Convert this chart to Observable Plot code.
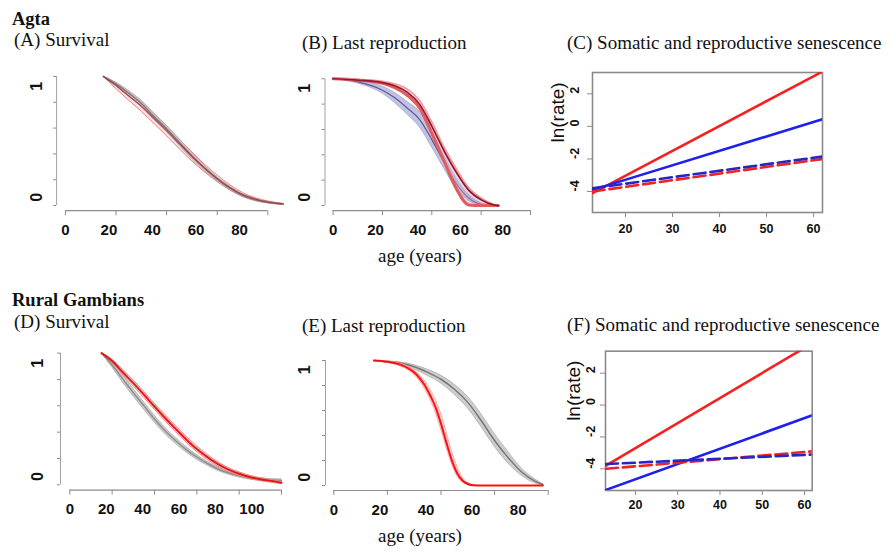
<!DOCTYPE html>
<html>
<head>
<meta charset="utf-8">
<script src="https://cdn.jsdelivr.net/npm/d3@7"></script>
<script src="https://cdn.jsdelivr.net/npm/@observablehq/plot@0.6"></script>
<style>
  html, body { margin: 0; padding: 0; background: #fff; }
  #fig { position: relative; width: 891px; height: 554px; background: #fff; overflow: hidden; }
  .ttl { position: absolute; font-family: "Liberation Serif", "Times New Roman", serif; font-size: 19px; line-height: 19px; color: #111; white-space: nowrap; }
  .grp { font-weight: bold; font-size: 18.5px; line-height: 18.5px; }
  .panel { position: absolute; }
</style>
</head>
<body>
<div id="fig"></div>
<script>
// ---------------- data ----------------
// (A) Agta survival
const ageA = [15, 20, 25, 30, 35, 40, 45, 50, 55, 60, 65, 70, 75, 80, 86];
const survA_gray   = [1.00, 0.940, 0.870, 0.790, 0.690, 0.595, 0.490, 0.385, 0.290, 0.205, 0.135, 0.080, 0.045, 0.025, 0.013];
const survA_grayLo = [1.00, 0.925, 0.850, 0.765, 0.665, 0.570, 0.465, 0.360, 0.270, 0.190, 0.122, 0.072, 0.040, 0.021, 0.011];
const survA_grayHi = [1.00, 0.955, 0.890, 0.815, 0.715, 0.620, 0.515, 0.410, 0.310, 0.220, 0.148, 0.088, 0.050, 0.029, 0.015];
const survA_red    = [1.00, 0.930, 0.850, 0.770, 0.675, 0.580, 0.480, 0.380, 0.290, 0.210, 0.140, 0.085, 0.050, 0.028, 0.012];
const survA_redLo  = [1.00, 0.905, 0.815, 0.730, 0.635, 0.540, 0.440, 0.345, 0.260, 0.185, 0.120, 0.070, 0.038, 0.020, 0.007];
const survA_redHi  = [1.00, 0.950, 0.880, 0.805, 0.710, 0.615, 0.515, 0.415, 0.320, 0.235, 0.160, 0.100, 0.060, 0.035, 0.017];

// (B) Agta last reproduction
const ageB = [0, 10, 20, 25, 30, 35, 40, 45, 50, 55, 60, 65, 67];
const lastB_purple   = [1, 0.975, 0.910, 0.850, 0.770, 0.680, 0.520, 0.340, 0.170, 0.060, 0.010, 0.000, 0.000];
const lastB_purpleLo = [1, 0.965, 0.885, 0.810, 0.720, 0.620, 0.460, 0.290, 0.130, 0.040, 0.005, 0.000, 0.000];
const lastB_purpleHi = [1, 0.985, 0.940, 0.890, 0.820, 0.740, 0.580, 0.390, 0.210, 0.085, 0.020, 0.003, 0.000];
const lastB_red      = [1, 0.990, 0.970, 0.945, 0.895, 0.800, 0.625, 0.430, 0.260, 0.120, 0.045, 0.005, 0.000];
const lastB_redLo    = [1, 0.990, 0.965, 0.930, 0.870, 0.770, 0.570, 0.350, 0.130, 0.005, 0.000, 0.000, 0.000];
const lastB_redHi    = [1, 0.995, 0.980, 0.960, 0.920, 0.830, 0.660, 0.460, 0.290, 0.140, 0.060, 0.010, 0.003];

// (D) Rural Gambians survival
const ageD = [15, 20, 25, 30, 35, 40, 45, 50, 55, 60, 65, 70, 75, 80, 85, 90, 95, 100];
const survD_gray   = [1.00, 0.910, 0.805, 0.700, 0.600, 0.500, 0.410, 0.335, 0.268, 0.210, 0.162, 0.120, 0.090, 0.068, 0.052, 0.043, 0.036, 0.033];
const survD_grayLo = [1.00, 0.893, 0.778, 0.672, 0.572, 0.474, 0.387, 0.313, 0.248, 0.193, 0.148, 0.108, 0.080, 0.058, 0.043, 0.033, 0.026, 0.022];
const survD_grayHi = [1.00, 0.927, 0.832, 0.728, 0.628, 0.526, 0.433, 0.357, 0.288, 0.228, 0.177, 0.133, 0.100, 0.078, 0.062, 0.053, 0.046, 0.044];
const survD_red    = [1.00, 0.940, 0.855, 0.772, 0.685, 0.595, 0.508, 0.425, 0.345, 0.272, 0.210, 0.157, 0.115, 0.084, 0.060, 0.043, 0.030, 0.015];
const survD_redLo  = [1.00, 0.930, 0.835, 0.750, 0.662, 0.572, 0.485, 0.402, 0.323, 0.252, 0.192, 0.141, 0.100, 0.070, 0.048, 0.032, 0.020, 0.008];
const survD_redHi  = [1.00, 0.952, 0.875, 0.795, 0.708, 0.618, 0.532, 0.448, 0.368, 0.294, 0.229, 0.174, 0.130, 0.097, 0.072, 0.054, 0.040, 0.025];

// (E) Rural Gambians last reproduction
const ageE_gray = [15, 20, 25, 30, 35, 40, 45, 50, 55, 60, 65, 70, 75, 78];
const lastE_gray   = [1.00, 0.990, 0.978, 0.950, 0.905, 0.850, 0.770, 0.665, 0.520, 0.360, 0.225, 0.110, 0.035, 0.008];
const lastE_grayLo = [1.00, 0.984, 0.968, 0.932, 0.880, 0.818, 0.728, 0.618, 0.470, 0.310, 0.180, 0.082, 0.020, 0.004];
const lastE_grayHi = [1.00, 0.996, 0.987, 0.965, 0.928, 0.880, 0.808, 0.710, 0.570, 0.410, 0.270, 0.138, 0.052, 0.012];
const ageE_red = [15, 20, 25, 28, 30, 32, 34, 36, 38, 40, 42, 44, 46, 48, 50, 52, 55, 60, 70, 78];
const lastE_red   = [1, 0.990, 0.965, 0.935, 0.905, 0.860, 0.800, 0.720, 0.625, 0.495, 0.345, 0.205, 0.100, 0.040, 0.012, 0.002, 0, 0, 0, 0];
const lastE_redLo = [1, 0.985, 0.955, 0.920, 0.885, 0.835, 0.770, 0.685, 0.580, 0.445, 0.300, 0.170, 0.075, 0.028, 0.008, 0.001, 0, 0, 0, 0];
const lastE_redHi = [1, 0.995, 0.975, 0.950, 0.925, 0.885, 0.835, 0.765, 0.680, 0.570, 0.420, 0.270, 0.150, 0.065, 0.022, 0.006, 0, 0, 0, 0];

// (C) and (F) ln(rate) lines, endpoints at ages 13 and 62
const ageLine = [13, 62];
const lnC_redSolid  = [-4.10, 3.38];
const lnC_blueSolid = [-3.90, 0.45];
const lnC_redDash   = [-4.00, -2.00];
const lnC_blueDash  = [-3.80, -1.85];
const lnF_redSolid  = [-3.80, 3.90];
const lnF_blueSolid = [-5.32, -0.63];
const lnF_redDash   = [-4.00, -2.90];
const lnF_blueDash  = [-3.70, -3.10];

// tick values
const ticksA = [0, 20, 40, 60, 80];
const ticksD = [0, 20, 40, 60, 80, 100];
const ticksProbMinor = [0, 0.2, 0.4, 0.6, 0.8, 1];
const ticksProbLabel = [0, 1];
const ticksAgeLn = [20, 30, 40, 50, 60];
const ticksLn = [-4, -2, 0, 2];

// In the source figure the tick-label layer of the probability panels is
// drawn at 86% of the tick spacing (it was resized separately).
const LABEL_COMPRESS = 0.86;
const LABEL_SHIFT_Y = 0.03;

// ---------------- helpers ----------------
const SANS = "Liberation Sans, Arial, sans-serif";
const AXIS = "#8c8c8c";
const rows = (ages, mid, lo, hi) => ages.map((a, i) => ({age: a, mid: mid[i], lo: lo[i], hi: hi[i]}));

function band(data, {fill, fillOpacity, edge, edgeWidth, loEdge, loWidth, line, lineWidth}) {
  return [
    Plot.areaY(data, {x: "age", y1: "lo", y2: "hi", fill, fillOpacity, curve: "monotone-x"}),
    Plot.line(data, {x: "age", y: "lo", stroke: loEdge || edge, strokeWidth: loWidth || edgeWidth, curve: "monotone-x"}),
    Plot.line(data, {x: "age", y: "hi", stroke: edge, strokeWidth: edgeWidth, curve: "monotone-x"}),
    Plot.line(data, {x: "age", y: "mid", stroke: line, strokeWidth: lineWidth, curve: "monotone-x"})
  ];
}

function probPanel({left, top, width, height, xDomain, mL, mR, mT, mB, xTicks, layers, ylabDx}) {
  const p = Plot.plot({
    width, height, marginLeft: mL, marginRight: mR, marginTop: mT, marginBottom: mB,
    x: {domain: xDomain, label: null},
    y: {domain: [-0.04, 1.04], label: null},
    style: {color: AXIS, background: "transparent", overflow: "visible"},
    marks: [
      Plot.ruleY([-0.04], {x1: xTicks[0], x2: xTicks[xTicks.length - 1], stroke: AXIS, strokeWidth: 1.2}),
      Plot.axisX({ticks: xTicks, tickSize: 5, tickFormat: () => ""}),
      Plot.ruleX([xDomain[0]], {y1: 0, y2: 1, stroke: "#a0a0a0", strokeWidth: 1}),
      Plot.axisY({ticks: ticksProbMinor, tickSize: 3, tickFormat: () => ""}),
      ...layers,
      Plot.text(xTicks, {x: d => d * LABEL_COMPRESS, text: d => String(d), frameAnchor: "bottom", dy: 24,
        fill: "#111", fontSize: 15, fontWeight: "bold", fontFamily: SANS}),
      Plot.text(ticksProbLabel, {y: d => LABEL_SHIFT_Y + d * LABEL_COMPRESS, text: d => String(d), frameAnchor: "left",
        dx: ylabDx, rotate: -90, fill: "#111", fontSize: 16, fontWeight: "bold", fontFamily: SANS})
    ]
  });
  p.classList.add("panel");
  p.style.left = left + "px"; p.style.top = top + "px";
  return p;
}

function lnPanel({left, top, width, height, xDomain, yDomain, mL, mR, mT, mB, series, xlabDy, ylabDx, titleDx}) {
  const marks = [
    Plot.frame({stroke: "#8a8a8a", strokeWidth: 1.6}),
    Plot.axisX({ticks: ticksAgeLn, tickSize: 5, tickFormat: () => ""}),
    Plot.axisY({ticks: ticksLn, tickSize: 5, tickFormat: () => ""})
  ];
  for (const s of series) {
    const data = ageLine.map((a, i) => ({age: a, v: s.values[i]}));
    marks.push(Plot.line(data, {x: "age", y: "v", stroke: s.color, strokeWidth: 2.6,
      strokeDasharray: s.dashed ? "12,5" : null, clip: true}));
  }
  marks.push(
    Plot.text(ticksAgeLn, {x: d => d, text: d => String(d), frameAnchor: "bottom", dy: xlabDy,
      fill: "#111", fontSize: 12.5, fontWeight: "bold", fontFamily: SANS}),
    Plot.text(ticksLn, {y: d => d, text: d => String(d), frameAnchor: "left", dx: ylabDx, rotate: -90,
      fill: "#111", fontSize: 12.5, fontWeight: "bold", fontFamily: SANS}),
    Plot.text(["ln(rate)"], {text: d => d, frameAnchor: "left", dx: titleDx, rotate: -90,
      fill: "#111", fontSize: 19, fontFamily: SANS})
  );
  const p = Plot.plot({
    width, height, marginLeft: mL, marginRight: mR, marginTop: mT, marginBottom: mB,
    x: {domain: xDomain, label: null},
    y: {domain: yDomain, label: null},
    style: {color: AXIS, background: "transparent", overflow: "visible"},
    marks
  });
  p.classList.add("panel");
  p.style.left = left + "px"; p.style.top = top + "px";
  return p;
}

// ---------------- build ----------------
const fig = document.getElementById("fig");

const GRAY = {fill: "#c2c2c2", fillOpacity: 0.8, edge: "#a8a8a8", edgeWidth: 0.8, line: "#7a7a7a", lineWidth: 1.5};

// (A)
fig.appendChild(probPanel({
  left: 0, top: 60, width: 300, height: 195, xDomain: [-3.5, 90],
  mL: 56.1, mR: 7.4, mT: 10.8, mB: 44.8, xTicks: ticksA, ylabDx: -20,
  layers: [
    ...band(rows(ageA, survA_red, survA_redLo, survA_redHi), {fill: "#f3a3a3", fillOpacity: 0.3, edge: "#f07a7a", edgeWidth: 1, line: "#c0303a", lineWidth: 1.4}),
    ...band(rows(ageA, survA_gray, survA_grayLo, survA_grayHi), {...GRAY, fillOpacity: 0.7}),
    Plot.line(rows(ageA, survA_red, survA_redLo, survA_redHi), {x: "age", y: "mid", stroke: "#a82a35", strokeWidth: 1.1, strokeOpacity: 0.75, curve: "monotone-x"})
  ]
}));

// (B)
fig.appendChild(probPanel({
  left: 300, top: 60, width: 250, height: 195, xDomain: [-3.3, 83.3],
  mL: 24.5, mR: 11.9, mT: 13.2, mB: 44.9, xTicks: ticksA, ylabDx: -20,
  layers: [
    ...band(rows(ageB, lastB_purple, lastB_purpleLo, lastB_purpleHi), {fill: "#aeaed8", fillOpacity: 0.75, edge: "#a4a4cc", edgeWidth: 0.8, line: "#5a5a96", lineWidth: 1.2}),
    ...band(rows(ageB, lastB_red, lastB_redLo, lastB_redHi), {fill: "#c8a0b8", fillOpacity: 0.4, edge: "#f09a9a", edgeWidth: 1.5,
      loEdge: "#e25c5c", loWidth: 3, line: "#9a1432", lineWidth: 1.7})
  ]
}));

// (C)
fig.appendChild(lnPanel({
  left: 540, top: 60, width: 351, height: 195, xDomain: [12.98, 61.9], yDomain: [-5.29, 3.31],
  mL: 52, mR: 69, mT: 12, mB: 43, xlabDy: 20, ylabDx: -18, titleDx: -35,
  series: [
    {values: lnC_redSolid, color: "#f52020", dashed: false},
    {values: lnC_blueSolid, color: "#2020ee", dashed: false},
    {values: lnC_redDash, color: "#f52020", dashed: true},
    {values: lnC_blueDash, color: "#2525c8", dashed: true}
  ]
}));

// (D)
fig.appendChild(probPanel({
  left: 0, top: 335, width: 320, height: 200, xDomain: [-4.4, 114.4],
  mL: 60, mR: 8.5, mT: 12.4, mB: 45.4, xTicks: ticksD, ylabDx: -23,
  layers: [
    ...band(rows(ageD, survD_gray, survD_grayLo, survD_grayHi), {...GRAY, line: "#8e8e8e"}),
    ...band(rows(ageD, survD_red, survD_redLo, survD_redHi), {fill: "#f5a0a0", fillOpacity: 0.3, edge: "#f08080", edgeWidth: 1, line: "#e01818", lineWidth: 2})
  ]
}));

// (E)
fig.appendChild(probPanel({
  left: 300, top: 335, width: 270, height: 200, xDomain: [-3.1, 84],
  mL: 25, mR: 11.6, mT: 20, mB: 45, xTicks: ticksA, ylabDx: -21,
  layers: [
    ...band(rows(ageE_gray, lastE_gray, lastE_grayLo, lastE_grayHi), {...GRAY, line: "#767676"}),
    ...band(rows(ageE_red, lastE_red, lastE_redLo, lastE_redHi), {fill: "#f8b0b0", fillOpacity: 0.45, edge: "#f7a8a8", edgeWidth: 1, line: "#ff1010", lineWidth: 2})
  ]
}));

// (F)
fig.appendChild(lnPanel({
  left: 540, top: 335, width: 351, height: 200, xDomain: [12.9, 61.83], yDomain: [-5.36, 3.38],
  mL: 65, mR: 79.3, mT: 15.7, mB: 45, xlabDy: 18, ylabDx: -15, titleDx: -32,
  series: [
    {values: lnF_redSolid, color: "#f52020", dashed: false},
    {values: lnF_blueSolid, color: "#2020ee", dashed: false},
    {values: lnF_redDash, color: "#f52020", dashed: true},
    {values: lnF_blueDash, color: "#2525c8", dashed: true}
  ]
}));

// ---------------- titles ----------------
const titles = [
  {t: "Agta", x: 12, y: 9.5, cls: "ttl grp"},
  {t: "(A) Survival", x: 14, y: 30, cls: "ttl"},
  {t: "(B) Last reproduction", x: 302, y: 33, cls: "ttl"},
  {t: "(C) Somatic and reproductive senescence", x: 567, y: 33, cls: "ttl"},
  {t: "Rural Gambians", x: 12, y: 290.5, cls: "ttl grp"},
  {t: "(D) Survival", x: 14, y: 312, cls: "ttl"},
  {t: "(E) Last reproduction", x: 302, y: 316, cls: "ttl"},
  {t: "(F) Somatic and reproductive senescence", x: 567, y: 315, cls: "ttl"}
];
for (const d of titles) {
  const el = document.createElement("div");
  el.className = d.cls; el.textContent = d.t;
  el.style.left = d.x + "px"; el.style.top = d.y + "px";
  fig.appendChild(el);
}
for (const y of [246, 526]) {
  const el = document.createElement("div");
  el.className = "ttl"; el.textContent = "age (years)";
  el.style.left = "420px"; el.style.top = y + "px"; el.style.transform = "translateX(-50%)";
  fig.appendChild(el);
}
</script>
</body>
</html>
